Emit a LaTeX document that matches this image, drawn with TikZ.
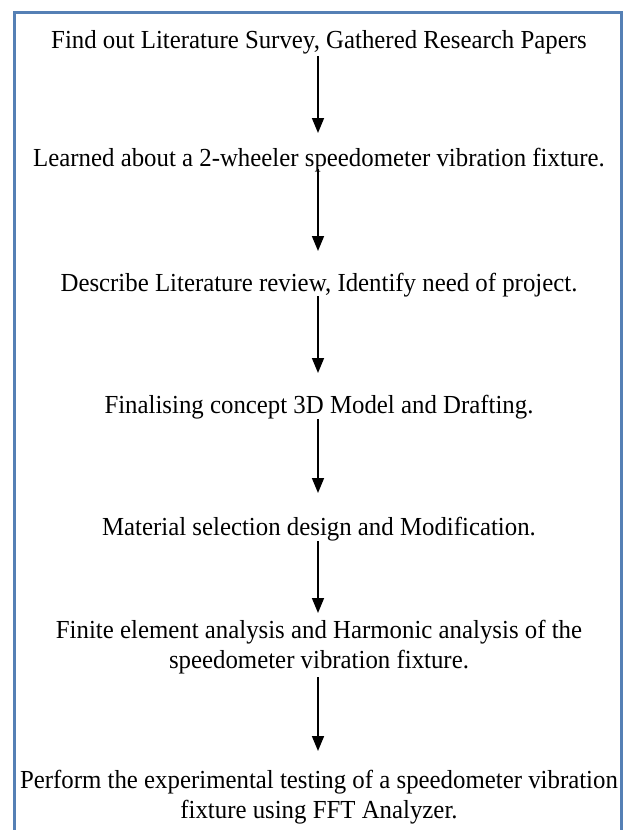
\documentclass[tikz,border=0pt]{standalone}
\usepackage{fontspec}
\setmainfont{Liberation Serif}[FakeStretch=0.955]
\usetikzlibrary{arrows.meta}
\definecolor{framebl}{HTML}{5580B5}
\tikzset{
  stage/.style={align=center, inner sep=0pt, font=\fontsize{26}{29.5}\selectfont},
  flow/.style={line width=1.6pt, -{Triangle[length=15pt,width=12pt]}}
}
\begin{document}
\begin{tikzpicture}[x=1pt,y=-1pt]
  \useasboundingbox (0,0) rectangle (628,830);
  % open-bottom frame
  \draw[framebl, line width=3pt] (14.5,840) -- (14.5,12.5) -- (621.5,12.5) -- (621.5,840);
  % steps
  \node[stage] (s1) at (319,42) {Find out Literature Survey, Gathered Research Papers};
  \node[stage] (s2) at (319,160) {Learned about a 2-wheeler speedometer vibration fixture.};
  \node[stage] (s3) at (319,285) {Describe Literature review, Identify need of project.};
  \node[stage] (s4) at (319,407) {Finalising concept 3D Model and Drafting.};
  \node[stage] (s5) at (319,529) {Material selection design and Modification.};
  \node[stage] (s6) at (319,647) {Finite element analysis and Harmonic analysis of the\\speedometer vibration fixture.};
  \node[stage] (s7) at (319,797) {Perform the experimental testing of a speedometer vibration\\fixture using FFT Analyzer.};
  % connectors
  \coordinate (a1s) at (318,56);  \coordinate (a1e) at (318,133);
  \coordinate (a2s) at (318,169); \coordinate (a2e) at (318,251);
  \coordinate (a3s) at (318,296); \coordinate (a3e) at (318,373);
  \coordinate (a4s) at (318,419); \coordinate (a4e) at (318,493);
  \coordinate (a5s) at (318,541); \coordinate (a5e) at (318,613);
  \coordinate (a6s) at (318,677); \coordinate (a6e) at (318,751);
  \draw[flow] (a1s) -- (a1e);
  \draw[flow] (a2s) -- (a2e);
  \draw[flow] (a3s) -- (a3e);
  \draw[flow] (a4s) -- (a4e);
  \draw[flow] (a5s) -- (a5e);
  \draw[flow] (a6s) -- (a6e);
\end{tikzpicture}
\end{document}
